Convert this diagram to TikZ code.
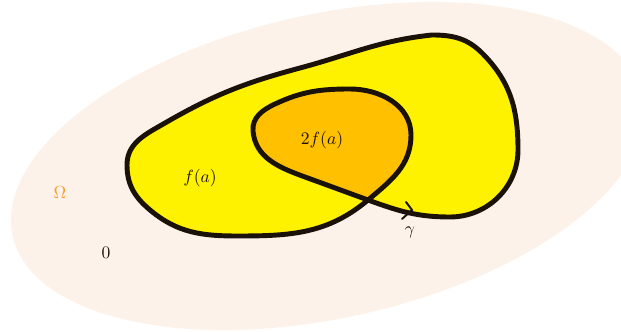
\documentclass[tikz,border=0pt]{standalone}
\usepackage{xcolor}
\definecolor{peach}{HTML}{FDF2E9}
\definecolor{lemon}{HTML}{FFF200}
\definecolor{amber}{HTML}{FFC000}
\definecolor{ink}{HTML}{1A1209}
\definecolor{omegaorange}{HTML}{F7A030}
\begin{document}
\begin{tikzpicture}[x=0.02cm, y=0.02cm, every node/.style={font=\normalsize, text=ink}]
        \useasboundingbox (0,0) rectangle (621,331);
        \clip (0,0) rectangle (621,331);

        \fill[peach, rotate around={12.5:(328,165)}] (328,165) ellipse [x radius=323, y radius=152];

        \def\gammapath{(368,131) to[out=-20,in=180] (450,114) to[out=0,in=270] (518,181)
            to[out=90,in=-45] (482,278) to[out=135,in=0] (432,296) to[out=186,in=15] (300,263)
            to[out=195,in=30] (165,208) to[out=210,in=90] (127,166) to[out=270,in=140] (150,121)
            to[out=-40,in=180] (238,95) to[out=0,in=220] (368,131)
            to[out=40,in=270] (411,196) to[out=90,in=0] (350,242) to[out=180,in=25] (275,227)
            to[out=205,in=95] (253,200) to[out=275,in=160] (305,154) to[out=-20,in=160] cycle}

        \fill[amber] \gammapath;
        \fill[lemon, even odd rule] \gammapath;
        \draw[ink, line width=2.8pt, line join=round] \gammapath;

        \draw[ink, line width=1.1pt, line cap=round] (406,129) -- (412,121) -- (402,112);

        \node (fa) at (200,153) {$f(a)$};
        \node (twofa) at (322,191) {$2f(a)$};
        \node (gam) at (410,99) {$\gamma$};
        \node[text=omegaorange] (omega) at (60,139) {$\Omega$};
        \node (zero) at (106,78) {$0$};
    \end{tikzpicture}
\end{document}
